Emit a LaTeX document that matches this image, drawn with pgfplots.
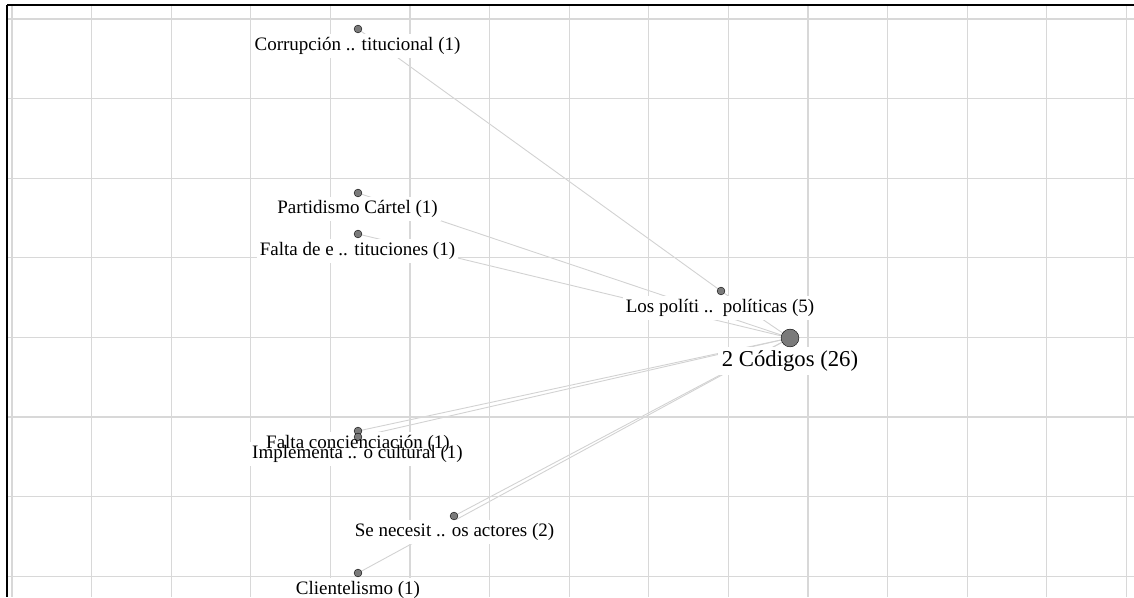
\documentclass[border=0pt]{standalone}
\usepackage{pgfplots}
\pgfplotsset{compat=1.18}
\usepackage{pgfplotstable}
\usepackage{fontspec}
\setmainfont{Liberation Serif}

\definecolor{gridgray}{RGB}{216,216,216}
\definecolor{edgegray}{RGB}{210,210,210}
\definecolor{dotgray}{RGB}{122,122,122}

\newcommand{\labelfont}{\fontsize{19}{22}\selectfont}
\newcommand{\bigfont}{\fontsize{22.7}{26}\selectfont}

% node positions in px, y counted downwards
\pgfplotstableread[col sep=comma, row sep=\\]{
x,y\\
358,29\\
358,193\\
358,234\\
721,291\\
358,431\\
358,437\\
454,516\\
358,573\\
}\smallnodes

% label centres
\pgfplotstableread[col sep=comma, row sep=\\]{
lx,ly,label\\
357.5,46,Corrupción .. titucional (1)\\
357.5,209,Partidismo Cártel (1)\\
357.5,251,Falta de e .. tituciones (1)\\
720,308,Los políti ..\enspace políticas (5)\\
358,444,Falta concienciación (1)\\
357.5,454,Implementa .. o cultural (1)\\
454.5,532,Se necesit .. os actores (2)\\
358,590,Clientelismo (1)\\
}\labels

\pgfplotsset{
    labelplot/.style={only marks, mark=*, mark size=0pt,
        scatter/use mapped color={draw=none, fill=none},
        mark options={draw=none, fill=none},
        point meta=explicit symbolic},
    edge/.style={on layer=axis background, edgegray, line width=0.9pt},
}

\begin{document}
\begin{tikzpicture}
\begin{axis}[
    set layers,
    scale only axis,
    width=1127pt, height=592pt,
    xmin=7, xmax=1134, ymin=5, ymax=597,
    y dir=reverse,
    axis x line*=top, axis y line*=left,
    axis line style={black, line width=2pt},
    xtick={12,91.6,...,1130}, ytick={19,98.6,...,597},
    xticklabels={}, yticklabels={},
    major tick length=0pt,
    grid=major,
    major grid style={gridgray, line width=1.3pt},
    clip=false,
]
% edges
\addplot[edge] coordinates {(358,29) (721,291)};
\addplot[edge] coordinates {(721,291) (790,338)};
\addplot[edge] coordinates {(358,193) (790,338)};
\addplot[edge] coordinates {(358,234) (790,338)};
\addplot[edge] coordinates {(358,431) (790,338)};
\addplot[edge] coordinates {(358,437) (790,338)};
\addplot[edge] coordinates {(454,516) (790,338)};
\addplot[edge] coordinates {(358,573) (790,338)};

% white boxes behind labels (hide the edges, not the grid)
\addplot[labelplot, on layer=axis background,
    nodes near coords={\phantom{\pgfplotspointmeta}},
    every node near coord/.append style={anchor=center, fill=white, inner sep=3pt, font=\labelfont}]
    table[x=lx, y=ly, meta=label] {\labels};
\addplot[labelplot, on layer=axis background,
    nodes near coords={\phantom{\pgfplotspointmeta}},
    every node near coord/.append style={anchor=center, fill=white, inner sep=4pt, font=\bigfont}]
    coordinates {(790,361) [2 Códigos (26)]};

% dots
\addplot[only marks, mark=*, mark size=3.9pt, mark options={draw=none, fill=dotgray}]
    table[x=x, y=y] {\smallnodes};
\addplot[only marks, mark=*, mark size=8.9pt, mark options={draw=none, fill=dotgray}]
    coordinates {(790,338)};

% label texts
\addplot[labelplot, nodes near coords,
    every node near coord/.append style={anchor=center, inner sep=0pt, font=\labelfont, text=black}]
    table[x=lx, y=ly, meta=label] {\labels};
\addplot[labelplot, nodes near coords,
    every node near coord/.append style={anchor=center, inner sep=0pt, font=\bigfont, text=black}]
    coordinates {(790,361) [2 Códigos (26)]};

\coordinate (bl) at (axis cs:0,597);
\coordinate (tr) at (axis cs:1134,0);
\end{axis}
\pgfresetboundingbox
\useasboundingbox (bl) rectangle (tr);
\end{tikzpicture}
\end{document}
